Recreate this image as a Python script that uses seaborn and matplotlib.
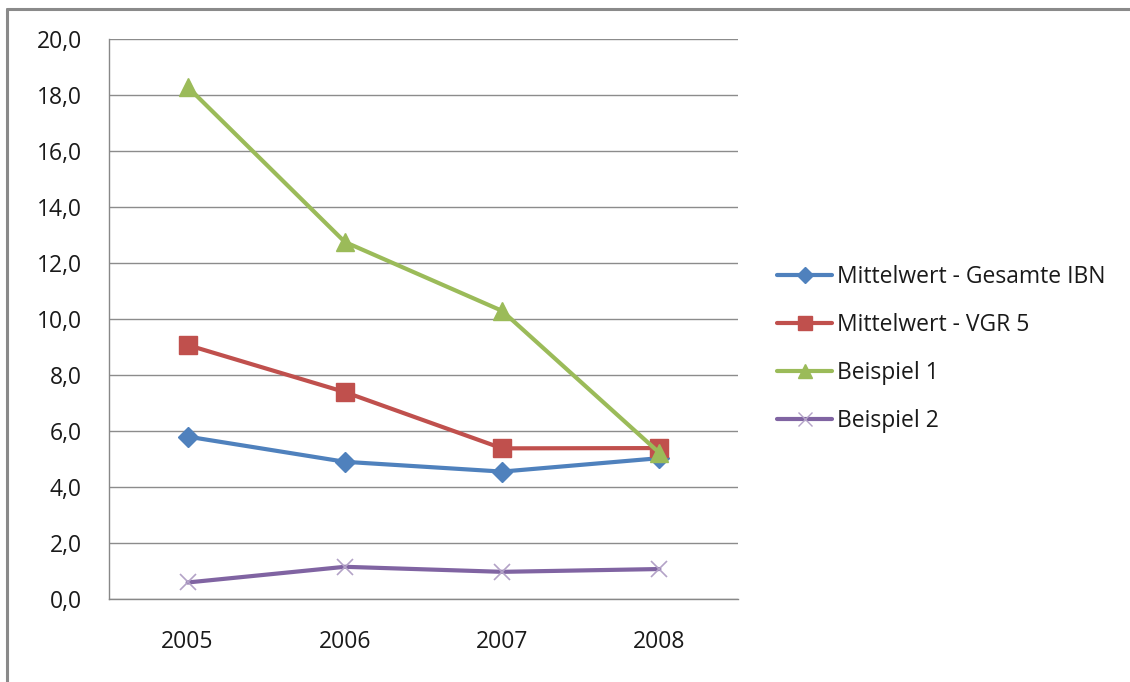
import matplotlib
matplotlib.use("Agg")
import matplotlib.pyplot as plt
from matplotlib.lines import Line2D
from matplotlib.ticker import FuncFormatter, FixedLocator
import seaborn as sns
import pandas as pd

years = ["2005", "2006", "2007", "2008"]
gesamte_ibn = [5.80, 4.90, 4.55, 5.03]
vgr5 = [9.07, 7.39, 5.38, 5.39]
beispiel1 = [18.29, 12.75, 10.29, 5.22]
beispiel2 = [0.59, 1.15, 0.97, 1.07]

series_names = ["Mittelwert - Gesamte IBN", "Mittelwert - VGR 5", "Beispiel 1", "Beispiel 2"]
series_values = [gesamte_ibn, vgr5, beispiel1, beispiel2]

rows = []
for name, vals in zip(series_names, series_values):
    for i, (yr, v) in enumerate(zip(years, vals)):
        rows.append({"pos": i, "Jahr": yr, "Wert": v, "Reihe": name})
df = pd.DataFrame(rows)

colors = {
    "Mittelwert - Gesamte IBN": "#4F81BD",
    "Mittelwert - VGR 5": "#C0504D",
    "Beispiel 1": "#9BBB59",
    "Beispiel 2": "#8064A2",
}
markers = {
    "Mittelwert - Gesamte IBN": "D",
    "Mittelwert - VGR 5": "s",
    "Beispiel 1": "^",
    "Beispiel 2": "x",
}
msizes = {
    "Mittelwert - Gesamte IBN": 10,
    "Mittelwert - VGR 5": 13,
    "Beispiel 1": 13,
    "Beispiel 2": 12,
}
edge = {name: colors[name] for name in series_names}
edge["Beispiel 2"] = "#B3A2C7"

FS = 16.5

sns.set_theme(style="white")
plt.rcParams["font.family"] = ["Open Sans", "DejaVu Sans"]

fig = plt.figure(figsize=(11.3, 6.82), dpi=100)
ax = fig.add_axes([109 / 1130, 83 / 682, 629 / 1130, 560 / 682])

for name in series_names:
    sub = df[df["Reihe"] == name]
    sns.lineplot(data=sub, x="pos", y="Wert", ax=ax, color=colors[name],
                 marker=markers[name], markersize=msizes[name], linewidth=3.0,
                 markeredgecolor=edge[name],
                 markeredgewidth=1.0 if name != "Beispiel 2" else 1.2,
                 label=name, legend=False)

ax.set_xlim(-0.5, 3.5)
ax.set_ylim(0, 20)
ax.set_yticks([0, 2, 4, 6, 8, 10, 12, 14, 16, 18, 20])
ax.yaxis.set_major_formatter(FuncFormatter(lambda v, p: f"{v:.1f}".replace(".", ",")))
ax.set_xticks(range(len(years)))
ax.set_xticklabels(years)
ax.xaxis.set_minor_locator(FixedLocator([-0.5, 0.5, 1.5, 2.5, 3.5]))
ax.tick_params(axis="x", which="major", length=0, pad=22.5, labelsize=FS, labelcolor="#1a1a1a")
ax.tick_params(axis="x", which="minor", length=6.5, width=1.0, color="#888888", direction="out")
ax.tick_params(axis="y", which="major", length=4.5, width=1.0, color="#888888", direction="out",
               labelsize=FS, pad=15, labelcolor="#1a1a1a")
ax.grid(axis="y", color="#8C8C8C", linewidth=1.0)
ax.set_axisbelow(True)
for s in ["top", "right"]:
    ax.spines[s].set_visible(False)
for s in ["left", "bottom"]:
    ax.spines[s].set_color("#888888")
    ax.spines[s].set_linewidth(1.0)
ax.set_xlabel("")
ax.set_ylabel("")

handles = []
for name in series_names:
    handles.append(Line2D([0], [0], color=colors[name], linewidth=3.0, marker=markers[name],
                          markersize=msizes[name] * 0.8, markeredgecolor=edge[name]))
fig.legend(handles, series_names, loc="upper left",
           bbox_to_anchor=(777 / 1130, 1 - 265 / 682), frameon=False,
           fontsize=FS, handlelength=2.4, handletextpad=0.2, labelspacing=1.05,
           borderpad=0, borderaxespad=0, labelcolor="#1a1a1a")

# outer chart frame (top and left edges)
fig.add_artist(Line2D([7 / 1130, 7 / 1130], [0, 1 - 9 / 682], transform=fig.transFigure,
                      color="#8A8A8A", linewidth=2.2))
fig.add_artist(Line2D([7 / 1130, 1], [1 - 9 / 682, 1 - 9 / 682], transform=fig.transFigure,
                      color="#8A8A8A", linewidth=2.2))

fig.savefig("out.png", dpi=100, facecolor="white")
